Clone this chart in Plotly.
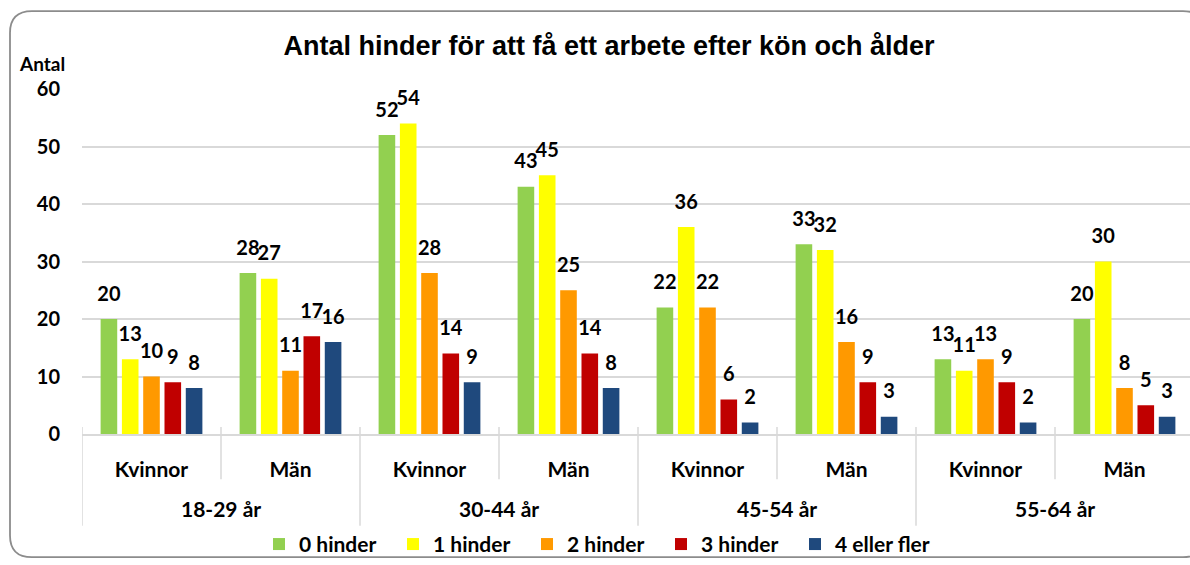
import plotly.graph_objects as go

# ---- data ----
age_groups = ["18-29 år", "30-44 år", "45-54 år", "55-64 år"]
genders = ["Kvinnor", "Män"]
series_names = ["0 hinder", "1 hinder", "2 hinder", "3 hinder", "4 eller fler"]
h0 = [20, 28, 52, 43, 22, 33, 13, 20]
h1 = [13, 27, 54, 45, 36, 32, 11, 30]
h2 = [10, 11, 28, 25, 22, 16, 13, 8]
h3 = [9, 17, 14, 14, 6, 9, 9, 5]
h4 = [8, 16, 9, 8, 2, 3, 2, 3]
colors = ["#92D050", "#FFFF00", "#FF9900", "#C00000", "#1F497D"]
title_text = "Antal hinder för att få ett arbete efter kön och ålder"
y_label = "Antal"

series = [h0, h1, h2, h3, h4]
cat_labels = [g for a in age_groups for g in genders]
xpos = list(range(len(cat_labels)))

# layout geometry (pixels)
W, H = 1190, 565
ML, MR, MT, MB = 82, 0, 89, 126
PW, PH = W - ML - MR, H - MT - MB
cat_px = 139.0
xmax = -0.5 + PW / cat_px

FONT = "Lato"
FS_NUM = 20
FS_TXT = 21

def px_x(p):
    return (p - ML) / PW

def px_y(p):
    return (H - MB - p) / PH

legend_ids = ["legend", "legend2", "legend3", "legend4", "legend5"]
legend_left_px = 259
legend_step_px = 134

fig = go.Figure()
for name, vals, col, lid in zip(series_names, series, colors, legend_ids):
    fig.add_trace(go.Bar(
        x=xpos, y=vals, name=name, marker=dict(color=col, line=dict(width=0)),
        offsetgroup=name, hoverinfo="skip", legend=lid,
    ))
for name, vals in zip(series_names, series):
    fig.add_trace(go.Scatter(
        x=xpos, y=vals, mode="markers+text", text=[str(v) for v in vals],
        textposition="top center", offsetgroup=name, showlegend=False,
        marker=dict(size=20, color="rgba(0,0,0,0)"),
        textfont=dict(family=FONT, size=FS_NUM, color="black", weight="bold"),
        hoverinfo="skip", cliponaxis=False,
    ))

shapes = []
y_top = px_y(432)
for i in range(len(cat_labels) + 1):
    b = i - 0.5
    outer = (i % len(genders) == 0)
    shapes.append(dict(
        type="line", xref="x", yref="paper", x0=b, x1=b,
        y0=y_top, y1=px_y(532) if outer else px_y(485),
        line=dict(color="#D9D9D9", width=1.5), layer="below",
    ))

# rounded chart border
L, T, R, B, rr = 10, 10, 1205, 564, 22
path = (f"M {px_x(L+rr)},{px_y(T)} L {px_x(R-rr)},{px_y(T)} "
        f"Q {px_x(R)},{px_y(T)} {px_x(R)},{px_y(T+rr)} "
        f"L {px_x(R)},{px_y(B-rr)} Q {px_x(R)},{px_y(B)} {px_x(R-rr)},{px_y(B)} "
        f"L {px_x(L+rr)},{px_y(B)} Q {px_x(L)},{px_y(B)} {px_x(L)},{px_y(B-rr)} "
        f"L {px_x(L)},{px_y(T+rr)} Q {px_x(L)},{px_y(T)} {px_x(L+rr)},{px_y(T)} Z")
shapes.append(dict(type="path", xref="paper", yref="paper", path=path,
                   line=dict(color="#8C8C8C", width=1.8), layer="above"))

annotations = [dict(
    text=y_label, xref="paper", yref="paper", x=px_x(41.5), y=px_y(63),
    xanchor="center", yanchor="middle", showarrow=False,
    font=dict(family=FONT, size=19, color="black", weight="bold"),
)]
ng = len(genders)
for k, a in enumerate(age_groups):
    center = sum(xpos[k * ng:(k + 1) * ng]) / ng
    annotations.append(dict(
        text=a, xref="x", yref="paper", x=center, y=px_y(515),
        xanchor="center", yanchor="middle", showarrow=False,
        font=dict(family=FONT, size=FS_TXT, color="black", weight="bold"),
    ))

legend_layouts = {}
for k, lid in enumerate(legend_ids):
    legend_layouts[lid] = dict(
        orientation="h", x=px_x(legend_left_px + k * legend_step_px), xanchor="left",
        y=px_y(551), yanchor="middle",
        font=dict(family=FONT, size=FS_TXT, color="black", weight="bold"),
        bgcolor="rgba(0,0,0,0)",
    )

fig.update_layout(
    width=W, height=H,
    margin=dict(l=ML, r=MR, t=MT, b=MB, pad=0),
    paper_bgcolor="white", plot_bgcolor="white",
    barmode="group", bargap=0.234, bargroupgap=0.22,
    scattermode="group", scattergap=0.234,
    font=dict(family=FONT, size=FS_TXT, color="black", weight="bold"),
    title=dict(text=title_text, x=609 / W, xanchor="center", xref="container",
               y=1 - 46 / H, yanchor="middle", yref="container",
               font=dict(family="Liberation Sans", size=27, color="black", weight="bold")),
    xaxis=dict(range=[-0.5, xmax], tickmode="array", tickvals=xpos, ticktext=cat_labels,
               showgrid=False, zeroline=False, showline=True, linecolor="#D9D9D9", linewidth=1.5,
               ticks="", ticklabelstandoff=16,
               tickfont=dict(family=FONT, size=FS_TXT, color="black", weight="bold")),
    yaxis=dict(range=[0, 60], dtick=10, showgrid=True, gridcolor="#D9D9D9", gridwidth=1.5,
               zeroline=False, showline=False, ticks="", ticklabelstandoff=21,
               tickfont=dict(family=FONT, size=FS_NUM, color="black", weight="bold")),
    shapes=shapes, annotations=annotations,
    showlegend=True,
    **legend_layouts,
)

fig.write_html(
    "out.html",
    config={"displayModeBar": False},
    post_script="document.body.style.margin='0';document.body.style.overflow='hidden';",
)
